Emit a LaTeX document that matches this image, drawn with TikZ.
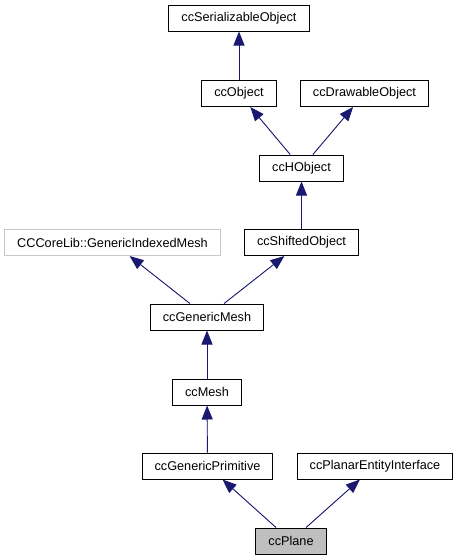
\documentclass[tikz,border=0pt]{standalone}
\usepackage{fontspec}
\setmainfont{Liberation Sans}
\usetikzlibrary{arrows.meta}
\definecolor{edgecolor}{RGB}{25,25,112}
\definecolor{extcolor}{RGB}{200,200,200}
\definecolor{selfcolor}{RGB}{191,191,191}

\begin{document}
\begin{tikzpicture}[x=1pt, y=-1pt,
    cls/.style={rectangle, draw=black, line width=1pt, fill=white, minimum height=26pt, inner xsep=12.5pt, inner ysep=0pt, font=\fontsize{12.7pt}{14pt}\selectfont},
    extcls/.style={cls, draw=extcolor},
    selfcls/.style={cls, fill=selfcolor},
    inherit/.style={{Triangle[length=14pt, width=11pt]}-, draw=edgecolor, fill=edgecolor, line width=0.9pt}
]
    \useasboundingbox (0,0) rectangle (459,560);

    % === classes ===
    \node[cls] (serial) at (239, 18) {ccSerializableObject};
    \node[cls] (object) at (239, 93.5) {ccObject};
    \node[cls] (drawable) at (364.5, 93.5) {ccDrawableObject};
    \node[cls] (hobject) at (301.5, 168) {ccHObject};
    \node[extcls] (indexed) at (112.5, 242.5) {CCCoreLib::GenericIndexedMesh};
    \node[cls] (shifted) at (301.5, 242.5) {ccShiftedObject};
    \node[cls] (genmesh) at (207, 317) {ccGenericMesh};
    \node[cls] (mesh) at (207, 392) {ccMesh};
    \node[cls] (genprim) at (207.5, 466) {ccGenericPrimitive};
    \node[cls] (planar) at (375, 466) {ccPlanarEntityInterface};
    \node[selfcls] (plane) at (291, 541) {ccPlane};

    % === inheritance ===
    \draw[inherit] (serial) -- (object);
    \draw[inherit] (object) -- (hobject);
    \draw[inherit] (drawable) -- (hobject);
    \draw[inherit] (hobject) -- (shifted);
    \draw[inherit] (indexed) -- (genmesh);
    \draw[inherit] (shifted) -- (genmesh);
    \draw[inherit] (genmesh) -- (mesh);
    \draw[inherit] (mesh) -- (genprim);
    \draw[inherit] (genprim) -- (plane);
    \draw[inherit] (planar) -- (plane);

\end{tikzpicture}
\end{document}
